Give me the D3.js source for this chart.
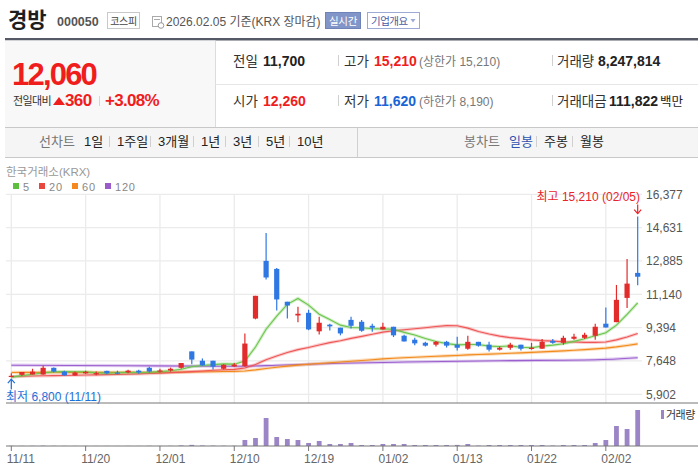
<!DOCTYPE html>
<html>
<head>
<meta charset="utf-8">
<script src="https://cdn.jsdelivr.net/npm/d3@7"></script>
<style>
body { margin: 0; background: #fff; }
text { font-family: 'Liberation Sans', 'Noto Sans CJK KR', sans-serif; }
</style>
</head>
<body>
<div id="chart"></div>
<script>

/////////////////////////// data ///////////////////////////

const dates = ["11/11","11/12","11/13","11/14","11/17","11/18","11/19","11/20","11/21","11/24",
  "11/25","11/26","11/27","11/28","12/01","12/02","12/03","12/04","12/05","12/08",
  "12/09","12/10","12/11","12/12","12/15","12/16","12/17","12/18","12/19","12/22",
  "12/23","12/24","12/26","12/29","12/30","01/02","01/05","01/06","01/07","01/08",
  "01/09","01/12","01/13","01/14","01/15","01/16","01/19","01/20","01/21","01/22",
  "01/23","01/26","01/27","01/28","01/29","01/30","02/02","02/03","02/04","02/05"]

const opens = [6840,6920,6940,6940,7290,7090,6890,7000,6950,7130,
  7040,7050,7140,7290,7090,7150,7290,8150,7660,7660,
  7240,7360,7380,9870,12890,12470,10750,10030,10170,9200,
  9550,9390,9800,9700,9490,9300,9440,8970,8760,8600,
  8500,8650,8500,8290,8650,8500,8240,8340,8500,8290,
  8290,8700,8600,8810,8860,8970,9600,9680,10950,12260]
const highs = [7000,7070,7240,7400,7300,7140,7090,7140,7090,7140,
  7140,7190,7190,7350,7240,7300,7540,8150,7780,7660,
  7480,7540,9080,11060,14350,12520,10750,10490,10330,9960,
  9600,9390,9960,9800,9600,9650,9440,9020,8860,8660,
  8700,8700,8920,8970,8650,8650,8400,8600,8500,8600,
  8800,8800,8970,9070,9120,9600,10450,11630,12990,15210]
const lows = [6800,6880,6940,6930,7040,6880,6880,6980,6900,6950,
  6950,7000,6980,7040,7040,7090,7240,7480,7400,7200,
  7200,7350,7350,9830,11910,10290,9870,9670,9260,9040,
  9250,8990,9350,9180,9180,9300,8900,8670,8470,8400,
  8400,8350,8190,8240,8400,8140,8190,8240,8190,8240,
  8290,8550,8500,8760,8800,8760,9400,9680,10420,11620]
const closes = [6870,7070,7090,7290,7090,6900,7040,7080,7010,7000,
  7010,7140,7050,7090,7150,7240,7540,7720,7420,7350,
  7450,7460,8560,11060,12020,10870,10550,10120,9300,9650,
  9460,9090,9490,9230,9390,9440,8990,8670,8570,8450,
  8650,8450,8340,8650,8450,8240,8340,8500,8290,8340,
  8650,8600,8860,8920,9020,9440,9400,10850,11700,12060]

// volume, thousand shares
const volumes = [48,35,42,70,38,30,28,26,22,25,
  20,30,26,45,28,40,130,260,110,80,
  60,50,1380,1830,6420,2060,1600,1370,690,1150,
  460,460,690,230,230,460,460,460,230,230,
  230,230,250,460,90,230,230,230,230,230,
  230,100,230,230,230,690,1370,4580,3900,8248]

const ma5 = [6800,6880,6950,7020,7084,7088,7082,7080,7024,7006,
  7028,7048,7042,7058,7088,7134,7214,7348,7414,7454,
  7496,7480,7648,8376,9310,9994,10612,10924,10572,10098,
  9816,9524,9398,9384,9332,9328,9308,9144,9012,8824,
  8666,8558,8492,8508,8508,8426,8404,8436,8364,8342,
  8424,8476,8548,8674,8810,8968,9128,9526,10082,10690]
const ma20 = [6830,6845,6860,6870,6880,6890,6900,6910,6920,6930,
  6940,6955,6970,6990,7010,7035,7060,7090,7120,7158,
  7187,7206,7280,7468,7715,7913,8089,8241,8355,8488,
  8610,8708,8830,8937,9049,9159,9231,9279,9336,9391,
  9451,9501,9490,9369,9191,9059,8949,8868,8817,8752,
  8711,8687,8655,8640,8621,8621,8642,8751,8907,9087]
const ma60 = [7047,7048,7048,7052,7053,7050,7050,7051,7050,7049,
  7049,7050,7050,7051,7052,7056,7064,7075,7081,7086,
  7093,7100,7125,7180,7255,7320,7380,7432,7472,7515,
  7558,7594,7636,7675,7715,7755,7790,7818,7843,7866,
  7893,7916,7938,7965,7988,8008,8029,8053,8074,8096,
  8122,8148,8178,8209,8242,8282,8321,8385,8462,8545]
// [day index, value]
const ma120 = [[0,7425],[11,7400],[21,7370],[25,7420],[31,7530],[37,7590],[46,7660],[55,7710],[59,7820]]

const yTicks = [16377,14631,12885,11140,9394,7648,5902]
const xTickLabels = ["11/11","11/20","12/01","12/10","12/19","01/02","01/13","01/22","02/02"]

const maNames = ["5","20","60","120"]
const maColors = ["#5cbf3d","#e8463f","#f5891f","#9b5bc8"]
const lineColors = ["#6cc64c","#ef5656","#f28a1c","#9c5fcf"]

const RED = "#f01d1d", BLUE = "#1a64d6"
const CANDLE_UP = "#e22b2b", CANDLE_DOWN = "#2f78e4"

/////////////////////////// svg ///////////////////////////

const svg = d3.select("#chart").append("svg")
  .attr("width", 698)
  .attr("height", 473)

function txt(x, y, s, o) {
  o = o || {}
  return svg.append("text")
    .attr("x", x).attr("y", y)
    .attr("font-size", o.size || 13)
    .attr("font-weight", o.weight || "normal")
    .attr("fill", o.fill || "#333")
    .attr("text-anchor", o.anchor || "start")
    .attr("letter-spacing", o.ls || 0)
    .text(s)
}
function hline(x1, x2, y, c) {
  svg.append("line").attr("x1", x1).attr("x2", x2).attr("y1", y).attr("y2", y).attr("stroke", c)
}
function vline(x, y1, y2, c) {
  svg.append("line").attr("x1", x).attr("x2", x).attr("y1", y1).attr("y2", y2).attr("stroke", c)
}

// ---- title row
txt(8, 27, "경방", {size: 21, weight: "bold", fill: "#1e1e1e"})
txt(57, 26, "000050", {size: 12.5, weight: "bold", fill: "#555"})
svg.append("rect").attr("x", 107.5).attr("y", 12.5).attr("width", 32).attr("height", 16)
  .attr("fill", "#fff").attr("stroke", "#c9c9c9")
txt(123.5, 24.5, "코스피", {size: 10, fill: "#444", anchor: "middle", ls: -0.3})
// small calendar icon
svg.append("rect").attr("x", 152.5).attr("y", 16.5).attr("width", 9).attr("height", 10)
  .attr("fill", "#fff").attr("stroke", "#aaa")
hline(154, 160, 19.5, "#aaa")
svg.append("circle").attr("cx", 161).attr("cy", 25.5).attr("r", 2.8).attr("fill", "#fff").attr("stroke", "#999")
txt(166, 26, "2026.02.05 기준(KRX 장마감)", {size: 12, fill: "#555"})
svg.append("rect").attr("x", 325.5).attr("y", 12.5).attr("width", 35).attr("height", 16)
  .attr("fill", "#8195c8").attr("stroke", "#7083b8")
txt(343, 24.5, "실시간", {size: 10.5, fill: "#fff", anchor: "middle", ls: -0.3})
svg.append("rect").attr("x", 367.5).attr("y", 12.5).attr("width", 52).attr("height", 16)
  .attr("fill", "#fff").attr("stroke", "#9eaad6")
txt(371, 24.5, "기업개요", {size: 10.5, fill: "#4b5ba3", ls: -0.5})
svg.append("path").attr("d", "M410.5,19 L415.5,19 L413,22.5 Z").attr("fill", "#9eaad6")

svg.append("rect").attr("x", 5).attr("y", 38).attr("width", 693).attr("height", 2.5).attr("fill", "#555a66")

// ---- price box
svg.append("rect").attr("x", 5).attr("y", 40.5).attr("width", 210).attr("height", 86.5).attr("fill", "#f8f8f8")
vline(215.5, 40.5, 127, "#dcdcdc")
hline(215.5, 698, 84.5, "#e6e6e6")

txt(12, 85, "12,060", {size: 31, weight: "bold", fill: RED, ls: -1.8})
txt(13, 105, "전일대비", {size: 11, fill: "#333", ls: -0.6})
svg.append("path").attr("d", "M53,105 L59,97 L65,105 Z").attr("fill", RED)
txt(65, 106, "360", {size: 17, weight: "bold", fill: RED, ls: -0.6})
vline(99.5, 96, 106, "#d5d5d5")
txt(105, 106, "+3.08%", {size: 17, weight: "bold", fill: RED, ls: -0.7})

const rowY = [66, 106]
txt(233, rowY[0], "전일", {size: 13.5, fill: "#333"})
txt(263, rowY[0], "11,700", {size: 14, weight: "bold", fill: "#222"})
vline(338.5, rowY[0] - 11, rowY[0], "#d0d0d0")
txt(344, rowY[0], "고가", {size: 13.5, fill: "#333"})
txt(374, rowY[0], "15,210", {size: 14, weight: "bold", fill: RED})
txt(419, rowY[0], "(상한가 15,210)", {size: 12, fill: "#777"})
vline(552.5, rowY[0] - 11, rowY[0], "#d0d0d0")
txt(557, rowY[0], "거래량", {size: 13.5, fill: "#333"})
txt(598, rowY[0], "8,247,814", {size: 14, weight: "bold", fill: "#222"})

txt(233, rowY[1], "시가", {size: 13.5, fill: "#333"})
txt(263, rowY[1], "12,260", {size: 14, weight: "bold", fill: RED})
vline(338.5, rowY[1] - 11, rowY[1], "#d0d0d0")
txt(344, rowY[1], "저가", {size: 13.5, fill: "#333"})
txt(374, rowY[1], "11,620", {size: 14, weight: "bold", fill: BLUE})
txt(419, rowY[1], "(하한가 8,190)", {size: 12, fill: "#777"})
vline(552.5, rowY[1] - 11, rowY[1], "#d0d0d0")
txt(557, rowY[1], "거래대금", {size: 13.5, fill: "#333"})
txt(609, rowY[1], "111,822", {size: 14, weight: "bold", fill: "#222"})
txt(660, rowY[1], "백만", {size: 12.5, fill: "#222"})

// ---- period tabs
svg.append("rect").attr("x", 5).attr("y", 127).attr("width", 693).attr("height", 31).attr("fill", "#f5f5f5")
hline(5, 698, 127.5, "#c8c8c8")
hline(5, 698, 157.5, "#c8c8c8")
vline(357.5, 127.5, 157.5, "#d0d0d0")

const lineTabs = ["1일","1주일","3개월","1년","3년","5년","10년"]
const lineTabX = [84, 117, 158, 201, 233, 266, 297]
const candleTabs = ["일봉","주봉","월봉"]
const candleTabX = [509, 544, 580]
txt(39, 146, "선차트", {size: 13, fill: "#777"})
lineTabs.forEach(function (t, i) {
  txt(lineTabX[i], 146, t, {size: 13, fill: "#222"})
  if (i > 0) vline(lineTabX[i] - 7.5, 136, 147, "#d0d0d0")
})
txt(464, 146, "봉차트", {size: 13, fill: "#777"})
candleTabs.forEach(function (t, i) {
  txt(candleTabX[i], 146, t, {size: 13, fill: i === 0 ? "#2f52b0" : "#222"})
  if (i > 0) vline(candleTabX[i] - 7.5, 136, 147, "#d0d0d0")
})

/////////////////////////// chart ///////////////////////////

const x = d3.scaleBand().domain(dates).range([6, 643]).padding(0)
const xc = function (i) { return x(dates[i]) + x.bandwidth() / 2 }
const y = d3.scaleLinear().domain([5902, 16377]).range([394.3, 194.3])
const yv = d3.scaleLinear().domain([0, d3.max(volumes)]).range([446, 410])

txt(6, 176, "한국거래소(KRX)", {size: 11.5, fill: "#999"})
const legendX = [13, 39, 72, 105]
maNames.forEach(function (n, i) {
  svg.append("rect").attr("x", legendX[i]).attr("y", 183).attr("width", 6).attr("height", 6).attr("fill", maColors[i])
  txt(legendX[i] + 10, 190.5, n, {size: 11, fill: "#888", ls: 0.8})
})

// grid
svg.append("g").selectAll("line").data(yTicks).enter().append("line")
  .attr("x1", 6).attr("x2", 642)
  .attr("y1", d => y(d)).attr("y2", d => y(d))
  .attr("stroke", "#ebebeb").attr("stroke-width", 1.3)
svg.append("g").selectAll("line").data(xTickLabels).enter().append("line")
  .attr("x1", d => xc(dates.indexOf(d))).attr("x2", d => xc(dates.indexOf(d)))
  .attr("y1", 194).attr("y2", 403)
  .attr("stroke", "#ebebeb").attr("stroke-width", 1.3)

// right axis labels
svg.append("g").selectAll("text").data(yTicks).enter().append("text")
  .attr("x", 646).attr("y", d => y(d) + 4.5)
  .attr("font-size", 12).attr("fill", "#555")
  .text(d3.format(","))

// moving averages
const maLine = d3.line().x((d, i) => xc(i)).y(d => y(d))
const maLine120 = d3.line().x(d => xc(d[0])).y(d => y(d[1])).curve(d3.curveMonotoneX)
const maPaths = [maLine(ma5), maLine(ma20), maLine(ma60), maLine120(ma120)]
for (let k = 3; k >= 0; k--) {
  svg.append("path").attr("d", maPaths[k]).attr("fill", "none")
    .attr("stroke", lineColors[k]).attr("stroke-width", 3.2).attr("stroke-opacity", 0.3)
  svg.append("path").attr("d", maPaths[k]).attr("fill", "none")
    .attr("stroke", lineColors[k]).attr("stroke-width", 1.1)
}

// candles
const candles = svg.append("g").selectAll("g").data(dates).enter().append("g")
candles.append("line")
  .attr("x1", (d, i) => xc(i) ).attr("x2", (d, i) => xc(i))
  .attr("y1", (d, i) => y(highs[i])).attr("y2", (d, i) => y(lows[i]))
  .attr("stroke", (d, i) => closes[i] >= opens[i] ? CANDLE_UP : CANDLE_DOWN)
  .attr("stroke-width", 1.2)
candles.append("rect")
  .attr("x", (d, i) => xc(i) - 2.6)
  .attr("width", 5.2)
  .attr("y", (d, i) => y(Math.max(opens[i], closes[i])))
  .attr("height", (d, i) => Math.max(1.2, Math.abs(y(opens[i]) - y(closes[i]))))
  .attr("fill", (d, i) => closes[i] >= opens[i] ? CANDLE_UP : CANDLE_DOWN)

// high / low markers
const hiIdx = d3.maxIndex(highs), loIdx = d3.minIndex(lows)
const hx = xc(hiIdx), hy = y(highs[hiIdx])
svg.append("path").attr("d", "M" + hx + "," + (hy - 12) + " L" + hx + "," + (hy - 3))
  .attr("stroke", "#e8232a").attr("stroke-width", 1.2).attr("fill", "none")
svg.append("path").attr("d", "M" + (hx - 3.5) + "," + (hy - 7) + " L" + hx + "," + (hy - 3) + " L" + (hx + 3.5) + "," + (hy - 7))
  .attr("stroke", "#e8232a").attr("stroke-width", 1.2).attr("fill", "none")
txt(640, 201, "최고 " + d3.format(",")(highs[hiIdx]) + " (" + dates[hiIdx] + ")", {size: 12, fill: "#e8232a", anchor: "end"})

const lx = xc(loIdx), ly = y(lows[loIdx])
svg.append("path").attr("d", "M" + lx + "," + (ly + 12) + " L" + lx + "," + (ly + 2))
  .attr("stroke", "#1f6fd8").attr("stroke-width", 1.2).attr("fill", "none")
svg.append("path").attr("d", "M" + (lx - 3.5) + "," + (ly + 6) + " L" + lx + "," + (ly + 2) + " L" + (lx + 3.5) + "," + (ly + 6))
  .attr("stroke", "#1f6fd8").attr("stroke-width", 1.2).attr("fill", "none")
txt(6, 401, "최저 " + d3.format(",")(lows[loIdx]) + " (" + dates[loIdx] + ")", {size: 12, fill: "#1f6fd8"})

// volume pane
hline(6, 698, 403, "#777")
svg.append("g").selectAll("rect").data(volumes).enter().append("rect")
  .attr("x", (d, i) => xc(i) - 2.4)
  .attr("width", 4.8)
  .attr("y", d => yv(d))
  .attr("height", d => 446 - yv(d))
  .attr("fill", "#9b85c6")
hline(6, 698, 446, "#777")
svg.append("rect").attr("x", 661).attr("y", 410).attr("width", 3).attr("height", 9).attr("fill", "#9b85c6")
txt(666, 419, "거래량", {size: 11, fill: "#333", ls: -0.5})

// x axis
const xt = svg.append("g").selectAll("g").data(xTickLabels).enter().append("g")
xt.append("line")
  .attr("x1", d => xc(dates.indexOf(d))).attr("x2", d => xc(dates.indexOf(d)))
  .attr("y1", 446).attr("y2", 451).attr("stroke", "#777")
xt.append("text")
  .attr("x", d => xc(dates.indexOf(d)) - 4.5).attr("y", 463)
  .attr("font-size", 12).attr("fill", "#666")
  .text(d => d)

</script>
</body>
</html>
